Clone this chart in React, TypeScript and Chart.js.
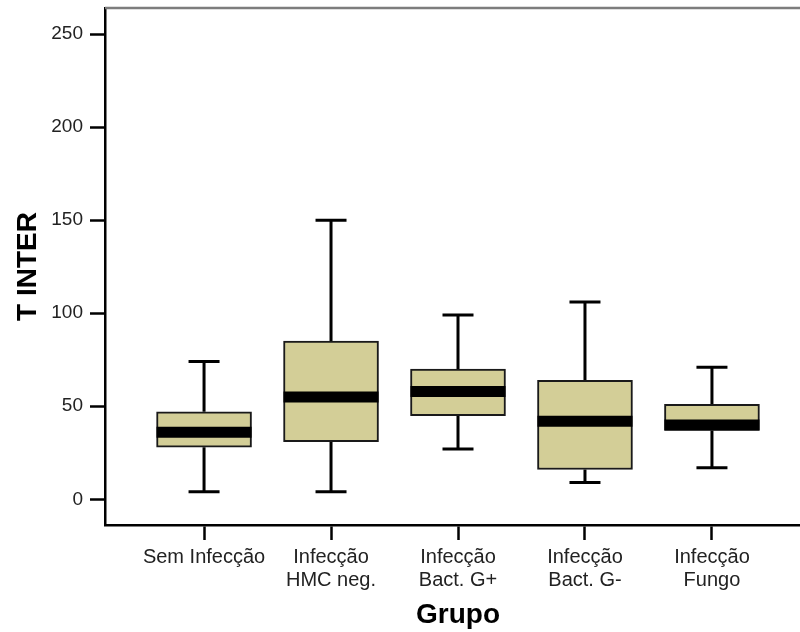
import { useEffect, useRef } from 'react';
import { Chart, registerables } from 'chart.js';

Chart.register(...registerables);

// Groups along the x axis (multi-line labels are arrays)
const categories: (string | string[])[] = [
  'Sem Infecção',
  ['Infecção', 'HMC neg.'],
  ['Infecção', 'Bact. G+'],
  ['Infecção', 'Bact. G-'],
  ['Infecção', 'Fungo'],
];

// Five-number summaries of T INTER per group
const whiskerLow = [4, 4, 27, 9, 17];
const q1 = [28, 31, 45, 16, 37];
const median = [36, 55, 58, 42, 40];
const q3 = [47, 85, 70, 64, 51];
const whiskerHigh = [74, 150, 99, 106, 71];

const yTicks = [0, 50, 100, 150, 200, 250];

const FONT = "'Liberation Sans', Arial, sans-serif";
const BOX_FILL = '#d3ce97';

const boxPlotMarks = {
  id: 'boxPlotMarks',
  beforeDatasetsDraw(chart: any) {
    const { ctx, scales } = chart;
    const x = scales.x;
    const y = scales.y;
    const capHalf = 15.5;
    ctx.save();
    ctx.strokeStyle = '#000';
    ctx.lineWidth = 3;
    ctx.lineCap = 'butt';
    categories.forEach((_, i) => {
      const cx = x.getPixelForValue(i);
      const yHi = y.getPixelForValue(whiskerHigh[i]);
      const yLo = y.getPixelForValue(whiskerLow[i]);
      ctx.beginPath();
      ctx.moveTo(cx, yHi);
      ctx.lineTo(cx, y.getPixelForValue(q3[i]));
      ctx.moveTo(cx, y.getPixelForValue(q1[i]));
      ctx.lineTo(cx, yLo);
      ctx.moveTo(cx - capHalf, yHi);
      ctx.lineTo(cx + capHalf, yHi);
      ctx.moveTo(cx - capHalf, yLo);
      ctx.lineTo(cx + capHalf, yLo);
      ctx.stroke();
    });
    ctx.restore();
  },
  afterDatasetsDraw(chart: any) {
    const { ctx, scales } = chart;
    const x = scales.x;
    const y = scales.y;
    const bars = chart.getDatasetMeta(0).data;
    ctx.save();
    ctx.strokeStyle = '#000';
    ctx.lineWidth = 11;
    ctx.lineCap = 'butt';
    categories.forEach((_, i) => {
      const cx = x.getPixelForValue(i);
      const half = bars[i].width / 2;
      const ym = y.getPixelForValue(median[i]);
      ctx.beginPath();
      ctx.moveTo(cx - half, ym);
      ctx.lineTo(cx + half, ym);
      ctx.stroke();
    });
    ctx.restore();
  },
  afterDraw(chart: any) {
    const { ctx, chartArea } = chart;
    ctx.save();
    ctx.strokeStyle = '#7d7d7d';
    ctx.lineWidth = 2.5;
    ctx.beginPath();
    ctx.moveTo(chartArea.left, chartArea.top);
    ctx.lineTo(chartArea.right, chartArea.top);
    ctx.lineTo(chartArea.right, chartArea.bottom);
    ctx.stroke();
    ctx.restore();
  },
};

export default function App() {
  const ref = useRef<HTMLCanvasElement>(null);

  useEffect(() => {
    const canvas = ref.current;
    if (!canvas) return;
    const chart = new Chart(canvas, {
      type: 'bar',
      data: {
        datasets: [
          {
            data: categories.map((_, i) => ({ x: i, y: [q1[i], q3[i]] })) as any,
            backgroundColor: BOX_FILL,
            borderColor: '#1a1a1a',
            borderWidth: 2,
            borderSkipped: false,
            barThickness: 95,
          },
        ],
      },
      options: {
        responsive: false,
        maintainAspectRatio: false,
        animation: false,
        layout: { padding: { left: 0, top: 8, right: 3, bottom: 0 } },
        plugins: {
          legend: { display: false },
          tooltip: { enabled: false },
        },
        scales: {
          x: {
            type: 'linear',
            min: -0.78,
            max: 4.78,
            bounds: 'data',
            offset: false,
            afterBuildTicks: (scale: any) => {
              scale.ticks = categories.map((_, i) => ({ value: i }));
            },
            afterFit: (scale: any) => {
              scale.height = 107;
              scale.paddingLeft = 0;
              scale.paddingRight = 0;
            },
            ticks: {
              autoSkip: false,
              maxRotation: 0,
              padding: 6,
              color: '#222',
              font: { family: FONT, size: 20, lineHeight: 1.15 },
              callback: (_v: any, index: number) => categories[index],
            },
            grid: {
              display: true,
              offset: false,
              drawOnChartArea: false,
              drawTicks: true,
              tickLength: 15,
              tickColor: '#000',
              tickWidth: 2.5,
            },
            border: { display: true, color: '#000', width: 2.5 },
            title: {
              display: true,
              text: 'Grupo',
              color: '#000',
              font: { family: FONT, size: 28, weight: 'bold' },
              padding: { top: 0, bottom: 0 },
            },
          },
          y: {
            type: 'linear',
            min: -13.8,
            max: 264,
            bounds: 'data',
            afterBuildTicks: (scale: any) => {
              scale.ticks = yTicks.map((v) => ({ value: v }));
            },
            afterFit: (scale: any) => {
              scale.width = 105;
              scale.paddingTop = 0;
              scale.paddingBottom = 0;
            },
            ticks: {
              padding: 7,
              color: '#222',
              font: { family: FONT, size: 19 },
            },
            grid: {
              display: true,
              drawOnChartArea: false,
              drawTicks: true,
              tickLength: 15,
              tickColor: '#000',
              tickWidth: 2.5,
            },
            border: { display: true, color: '#000', width: 2.5 },
            title: {
              display: true,
              text: 'T INTER',
              color: '#000',
              font: { family: FONT, size: 28, weight: 'bold' },
              padding: { top: 11, bottom: 0 },
            },
          },
        },
      },
      plugins: [boxPlotMarks],
    });
    return () => chart.destroy();
  }, []);

  return (
    <div
      style={{
        position: 'fixed',
        left: 0,
        top: 0,
        width: 800,
        height: 632,
        overflow: 'hidden',
        background: '#fff',
      }}
    >
      <canvas ref={ref} width={814} height={632} style={{ display: 'block' }} />
    </div>
  );
}
